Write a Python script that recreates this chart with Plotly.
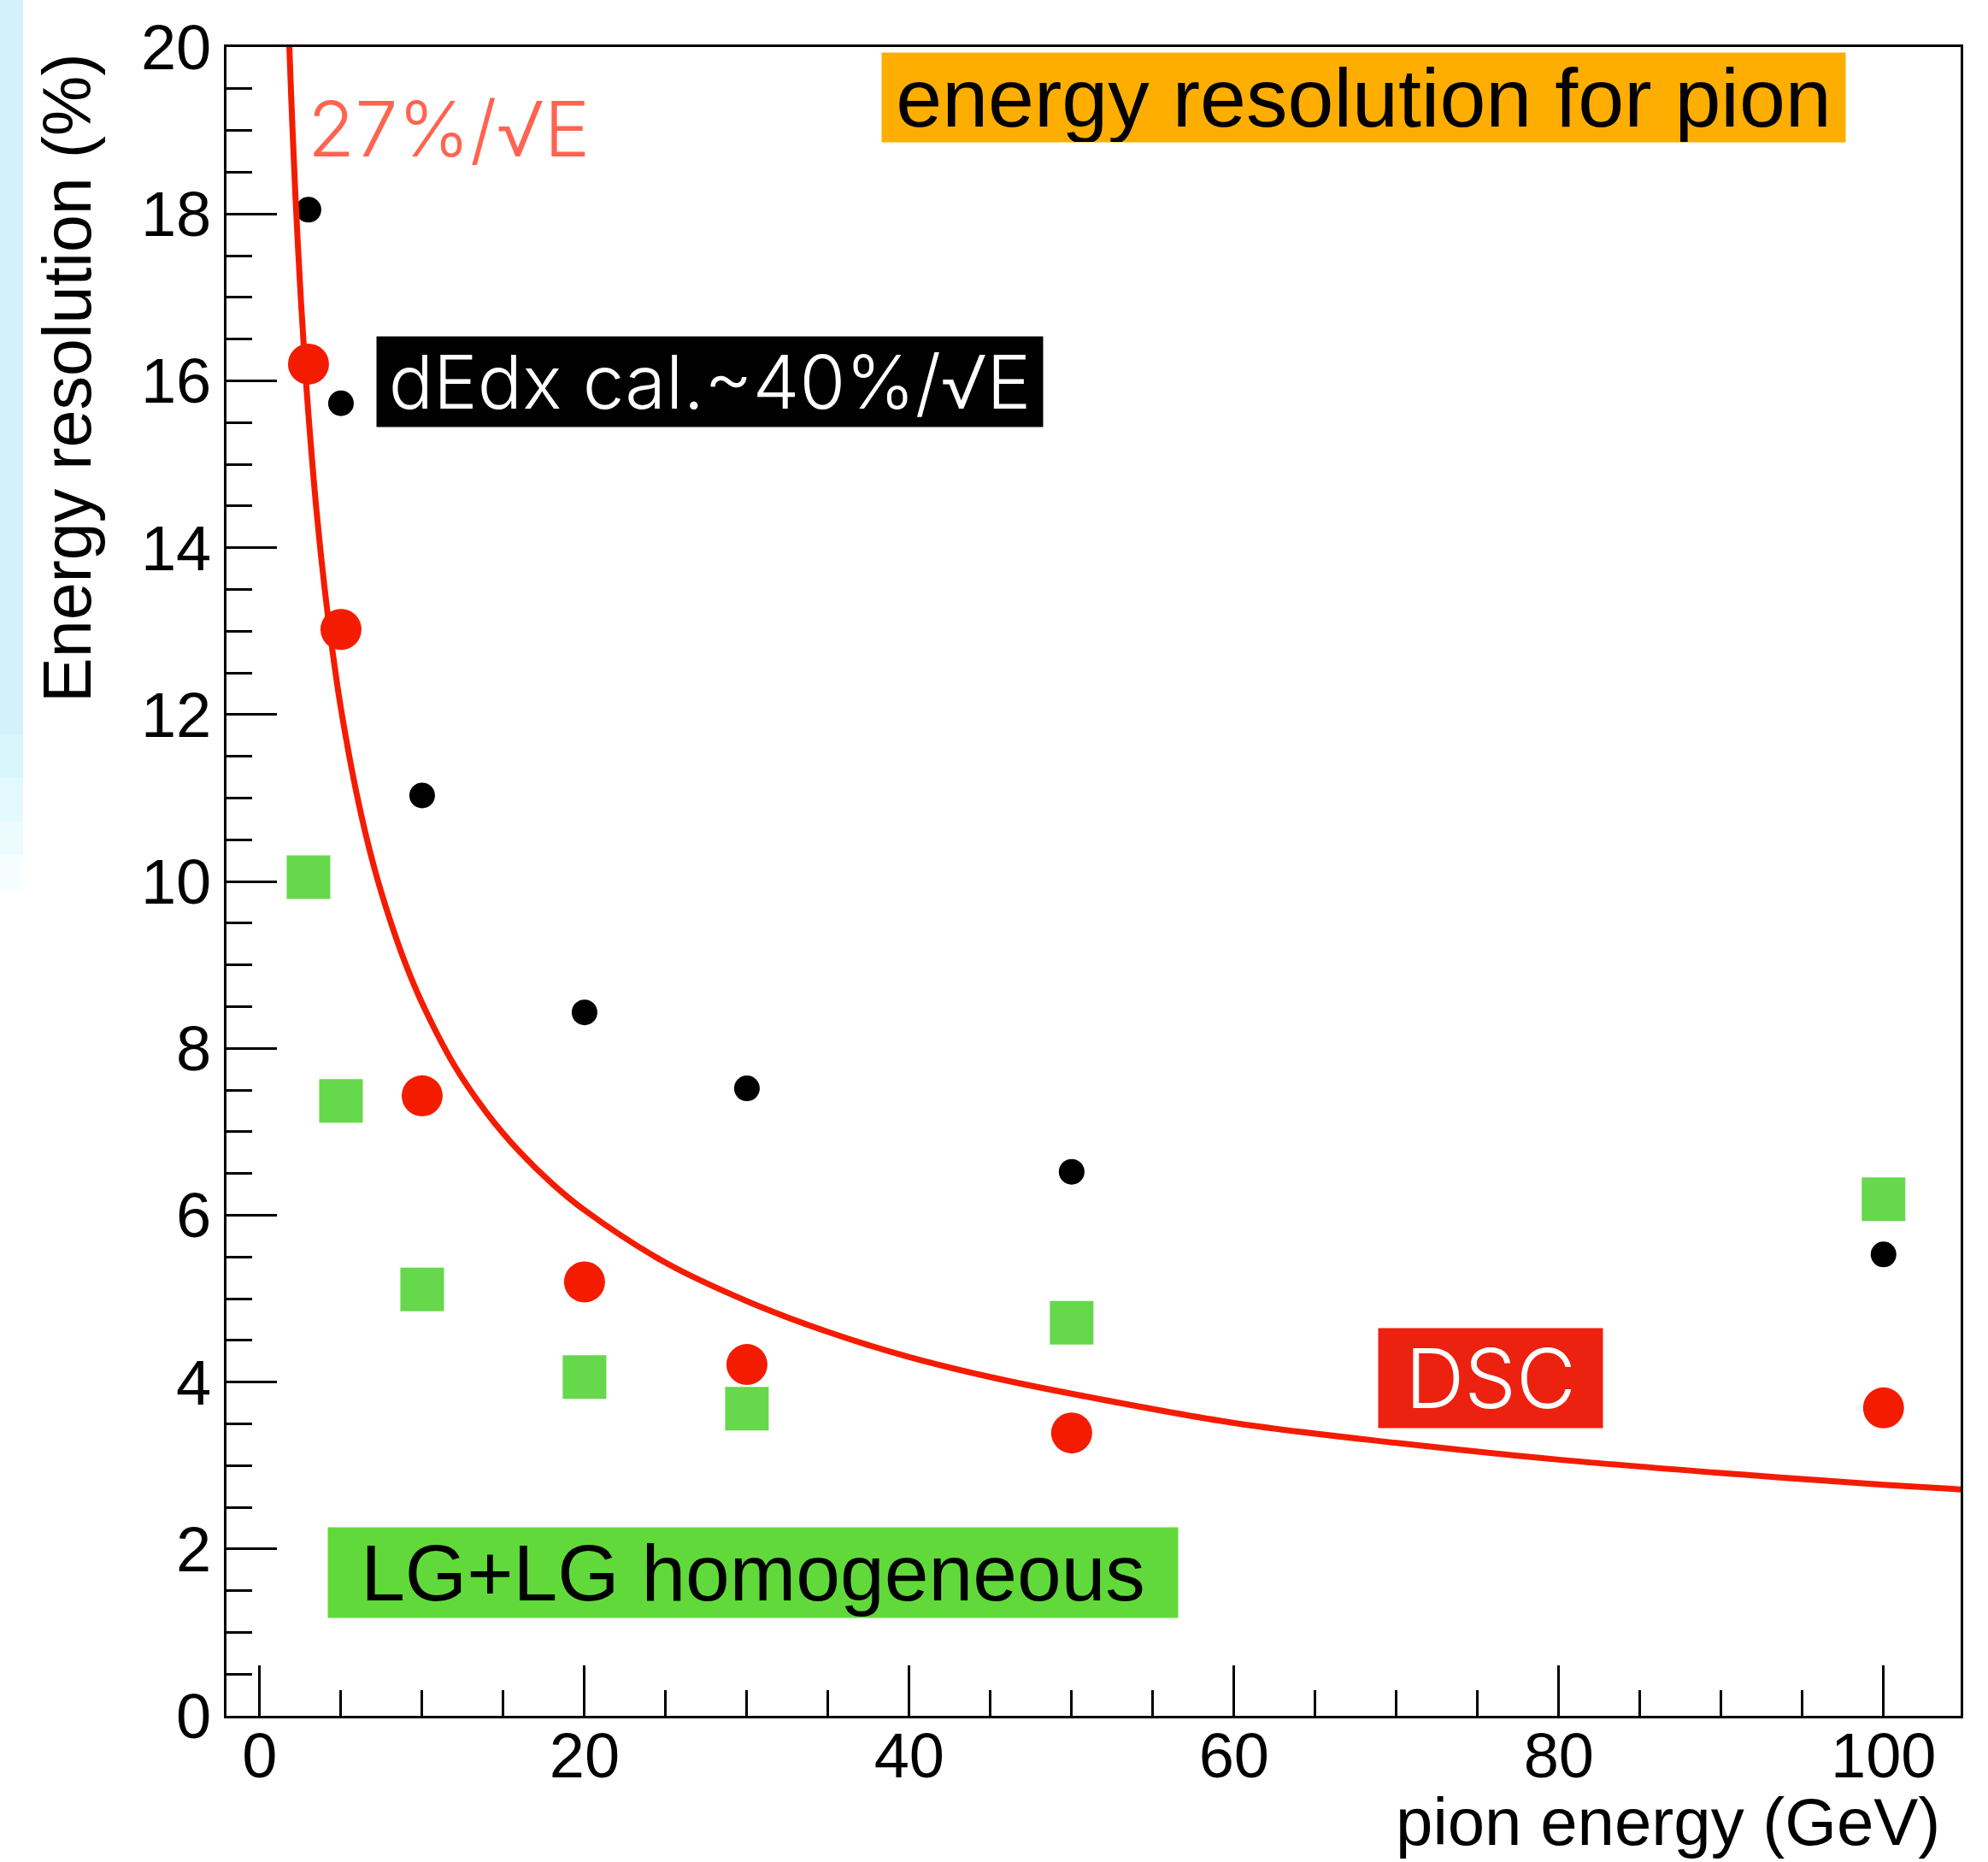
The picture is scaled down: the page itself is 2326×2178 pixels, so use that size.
import plotly.graph_objects as go

# ---- data ----
energy = [3, 5, 10, 20, 30, 50, 100]
dedx_res = [18.05, 15.73, 11.03, 8.43, 7.52, 6.52, 5.53]
dsc_res = [16.20, 13.02, 7.43, 5.20, 4.21, 3.39, 3.69]
lg_res = [10.05, 7.37, 5.11, 4.06, 3.68, 4.71, 6.19]

# curve "27%/sqrt(E)"
fit_energy = [1.8, 1.9, 2.0, 2.2, 2.5, 2.8, 3.0, 3.5, 4.0, 4.5, 5, 6, 7, 8, 9, 10,
              12, 14, 16, 18, 20, 25, 30, 35, 40, 45, 50, 60, 70, 80, 90, 100, 105]
fit_res = [20.12, 19.59, 19.09, 18.20, 17.08, 16.14, 15.59, 14.43, 13.50, 12.73, 12.07,
           11.02, 10.20, 9.55, 9.00, 8.54, 7.79, 7.22, 6.76, 6.38, 6.06, 5.43, 4.97,
           4.60, 4.30, 4.06, 3.86, 3.51, 3.27, 3.07, 2.91, 2.77, 2.71]

x_ticks = [0, 20, 40, 60, 80, 100]
y_ticks = [0, 2, 4, 6, 8, 10, 12, 14, 16, 18, 20]

# ---- layout geometry (pixels) ----
W, H = 2326, 2178
L, R, T, B = 265, 2294, 55, 2007
FONT = "Liberation Sans, Arial, Helvetica, sans-serif"
LIGHT = "Inter, Open Sans, Noto Sans, Liberation Sans, sans-serif"


def px_x(px):
    return (px - L) / (R - L)


def px_y(py):
    return (B - py) / (B - T)


fig = go.Figure()

fig.add_trace(go.Scatter(x=energy, y=lg_res, mode="markers", name="LG+LG",
                         marker=dict(symbol="square", size=51, color="#66d84b",
                                     line=dict(width=0))))
fig.add_trace(go.Scatter(x=energy, y=dedx_res, mode="markers", name="dEdx",
                         marker=dict(symbol="circle", size=30, color="black",
                                     line=dict(width=0))))
fig.add_trace(go.Scatter(x=fit_energy, y=fit_res, mode="lines", name="fit",
                         line=dict(color="#f41c00", width=7, shape="spline")))
fig.add_trace(go.Scatter(x=energy, y=dsc_res, mode="markers", name="DSC",
                         marker=dict(symbol="circle", size=48, color="#f41c00",
                                     line=dict(width=0))))

axis_common = dict(
    showgrid=False, zeroline=False, showline=True, linecolor="black", linewidth=3,
    mirror=True, ticks="inside", ticklen=59, tickwidth=3, tickcolor="black",
    tickfont=dict(family=FONT, size=74, color="black"),
)

fig.update_xaxes(range=[-2.05, 104.75], tickvals=x_ticks,
                 ticktext=[str(v) for v in x_ticks], ticklabelstandoff=-20,
                 minor=dict(dtick=5, tick0=0, ticks="inside", ticklen=30, tickwidth=3,
                            tickcolor="black", showgrid=False),
                 **axis_common)
fig.update_yaxes(range=[0, 20], tickvals=y_ticks,
                 ticktext=[str(v) for v in y_ticks],
                 minor=dict(dtick=0.5, tick0=0, ticks="inside", ticklen=30, tickwidth=3,
                            tickcolor="black", showgrid=False),
                 **axis_common)

annotations = [
    # axis titles
    dict(x=px_x(78), y=px_y(60), xanchor="center", yanchor="top", textangle=-90,
         text="Energy resolution (%)", font=dict(family=FONT, size=79, color="black")),
    dict(x=px_x(2272), y=px_y(2131), xanchor="right", yanchor="middle",
         text="pion energy (GeV)", font=dict(family=FONT, size=78, color="black")),
    # labels
    dict(x=px_x(358), y=px_y(150), xanchor="left", yanchor="middle",
         text="27%/√E", font=dict(family=LIGHT, size=90, color="#ff6450", weight=300)),
    dict(x=px_x(1031), y=px_y(61), xanchor="left", yanchor="top", width=1127, height=104,
         bgcolor="#fdae00", borderpad=0, text="energy resolution for pion",
         font=dict(family=FONT, size=97, color="black")),
    dict(x=px_x(440), y=px_y(393), xanchor="left", yanchor="top", width=779, height=105,
         bgcolor="black", borderpad=0, text="dEdx cal.~40%/√E",
         font=dict(family=LIGHT, size=87, color="white", weight=300)),
    dict(x=px_x(1612), y=px_y(1553), xanchor="left", yanchor="top", width=262, height=116,
         bgcolor="#ec2110", borderpad=0, text="DSC",
         font=dict(family=LIGHT, size=96, color="white", weight=300)),
    dict(x=px_x(383), y=px_y(1786), xanchor="left", yanchor="top", width=994, height=105,
         bgcolor="#62d93a", borderpad=0, text="LG+LG homogeneous",
         font=dict(family=FONT, size=93, color="black")),
]
for a in annotations:
    a.setdefault("xref", "paper")
    a.setdefault("yref", "paper")
    a.setdefault("showarrow", False)

# light-blue strip at the left edge
strip = [(0, 860, "#d2f1fb"), (860, 910, "#d8f6fc"), (910, 960, "#e2f9fd"),
         (960, 1000, "#ecfbfe"), (1000, 1040, "#f6fdff")]
shapes = [dict(type="rect", xref="paper", yref="paper", x0=px_x(0), x1=px_x(27),
               y0=px_y(y1), y1=px_y(y0), fillcolor=c, line=dict(width=0), layer="below")
          for (y0, y1, c) in strip]

fig.update_layout(
    width=W, height=H, showlegend=False,
    margin=dict(l=L, r=W - R, t=T, b=H - B, pad=0),
    paper_bgcolor="white", plot_bgcolor="white",
    annotations=annotations, shapes=shapes,
)

fig.write_html("out.html", config={"displayModeBar": False},
               post_script="document.body.style.margin='0';document.body.style.padding='0';")
